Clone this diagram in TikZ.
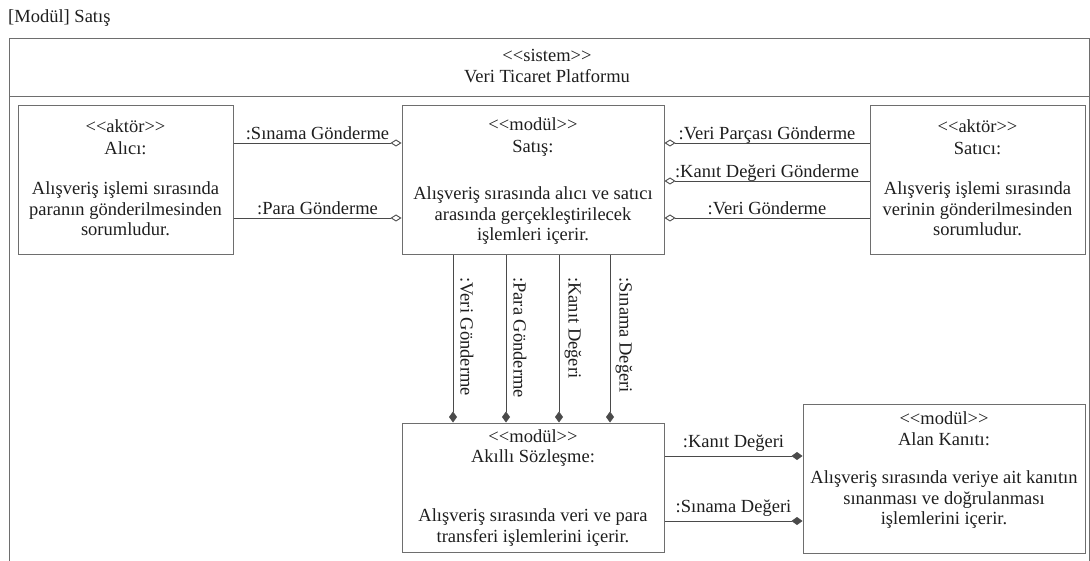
\documentclass[tikz,border=0pt]{standalone}
\usepackage{fontspec}
\setmainfont{Liberation Serif}
\usetikzlibrary{arrows.meta}
\definecolor{edgecol}{HTML}{4A4A4A}
\definecolor{framecol}{HTML}{6E6E6E}
\definecolor{inkcol}{HTML}{1E1E1E}
% guillemet-free stereotype brackets
\newcommand\stereo[1]{<\kern0pt<#1>\kern0pt>}
\begin{document}
\begin{tikzpicture}[x=1pt,y=-1pt,
  font=\fontsize{18.5}{20.5}\selectfont,
  box/.style={draw=framecol, line width=1pt, rectangle, inner sep=0pt},
  txt/.style={align=center, inner sep=0pt, text=inkcol},
  lbl/.style={inner sep=0pt, text=inkcol, anchor=base},
  vlbl/.style={inner sep=0pt, text=inkcol, rotate=-90, anchor=west},
  agg/.style={draw=edgecol, line width=0.9pt, -{Diamond[fill=white, length=11pt, width=7pt]}},
  comp/.style={draw=edgecol, line width=0.9pt, -{Diamond[length=11pt, width=8pt]}}]
\useasboundingbox (0,0) rectangle (1090,561);
\clip (0,0) rectangle (1090,561);

% title and system frame
\node[anchor=base west, inner sep=0pt, text=inkcol] (title) at (8,23) {[Modül] Satış};
\draw[framecol, line width=1pt] (9,600) -- (9,39) -- (1089,39) -- (1089,600);
\draw[framecol, line width=1pt] (9,97) -- (1089,97);
\node[txt] (sys) at (547,66) {\stereo{sistem}\\[1pt]Veri Ticaret Platformu};

% blocks
\node[box, minimum width=215pt, minimum height=149pt] (alici) at (125.5,180.5) {};
\node[box, minimum width=262pt, minimum height=149pt] (satis) at (533,180.5) {};
\node[box, minimum width=215pt, minimum height=149pt] (satici) at (977.5,180.5) {};
\node[box, minimum width=262pt, minimum height=129pt] (akilli) at (533,487.5) {};
\node[box, minimum width=282pt, minimum height=149pt] (alan) at (944,478.5) {};

\node[txt] (alici-head) at (125.5,137) {\stereo{aktör}\\[1pt]Alıcı:};
\node[txt] (alici-body) at (125.5,209) {Alışveriş işlemi sırasında\\paranın gönderilmesinden\\sorumludur.};
\node[txt] (satis-head) at (533,137) {\stereo{modül}\\[1pt]Satış:};
\node[txt] (satis-body) at (533,216) {Alışveriş sırasında alıcı ve satıcı\\arasında gerçekleştirilecek\\işlemleri içerir.};
\node[txt] (satici-head) at (977.5,137) {\stereo{aktör}\\[1pt]Satıcı:};
\node[txt] (satici-body) at (977.5,209) {Alışveriş işlemi sırasında\\verinin gönderilmesinden\\sorumludur.};
\node[txt] (akilli-head) at (533,448) {\stereo{modül}\\Akıllı Sözleşme:};
\node[txt] (akilli-body) at (533,527.5) {Alışveriş sırasında veri ve para\\transferi işlemlerini içerir.};
\node[txt] (alan-head) at (944,428.5) {\stereo{modül}\\Alan Kanıtı:};
\node[txt] (alan-body) at (944,500) {Alışveriş sırasında veriye ait kanıtın\\sınanması ve doğrulanması\\işlemlerini içerir.};

% connector rows and columns
\coordinate (r1) at (0,143);
\coordinate (r2) at (0,181);
\coordinate (r3) at (0,218);
\coordinate (r4) at (0,456);
\coordinate (r5) at (0,521);
\coordinate (c1) at (453,0);
\coordinate (c2) at (506,0);
\coordinate (c3) at (559,0);
\coordinate (c4) at (610,0);

% buyer to sales module
\draw[agg] (alici.east |- r1) -- node[lbl, midway, yshift=3pt] (l-sg) {:Sınama Gönderme} (satis.west |- r1);
\draw[agg] (alici.east |- r3) -- node[lbl, midway, yshift=3pt] (l-pg) {:Para Gönderme} (satis.west |- r3);

% seller to sales module
\draw[agg] (satici.west |- r1) -- node[lbl, midway, yshift=3pt] (l-vpg) {:Veri Parçası Gönderme} (satis.east |- r1);
\draw[agg] (satici.west |- r2) -- node[lbl, midway, yshift=3pt] (l-kdg) {:Kanıt Değeri Gönderme} (satis.east |- r2);
\draw[agg] (satici.west |- r3) -- node[lbl, midway, yshift=3pt] (l-vg) {:Veri Gönderme} (satis.east |- r3);

% sales module to smart contract
\draw[comp] (satis.south -| c1) -- (akilli.north -| c1);
\draw[comp] (satis.south -| c2) -- (akilli.north -| c2);
\draw[comp] (satis.south -| c3) -- (akilli.north -| c3);
\draw[comp] (satis.south -| c4) -- (akilli.north -| c4);
\node[vlbl] (v-vg) at (467,277) {:Veri Gönderme};
\node[vlbl] (v-pg) at (520,277) {:Para Gönderme};
\node[vlbl] (v-kd) at (573,277) {:Kanıt Değeri};
\node[vlbl] (v-sd) at (624,277) {:Sınama Değeri};

% smart contract to proof module
\draw[comp] (akilli.east |- r4) -- node[lbl, midway, yshift=9pt] (l-kd) {:Kanıt Değeri} (alan.west |- r4);
\draw[comp] (akilli.east |- r5) -- node[lbl, midway, yshift=9pt] (l-sd) {:Sınama Değeri} (alan.west |- r5);
\end{tikzpicture}
\end{document}
